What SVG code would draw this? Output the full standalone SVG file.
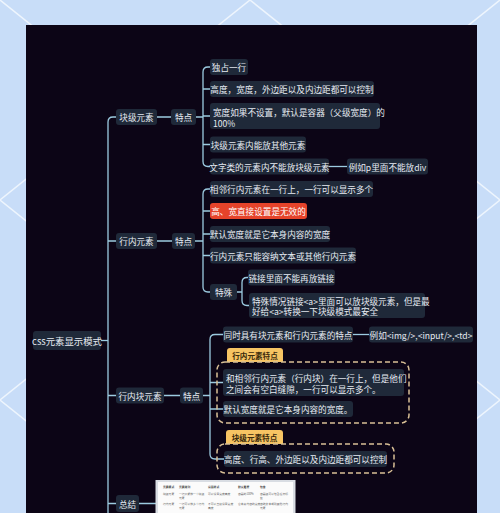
<svg xmlns="http://www.w3.org/2000/svg" width="500" height="513" viewBox="0 0 500 513">
<style>
.bgl{stroke:#eef5fd;stroke-width:1.5;fill:none}
.box{fill:#1f2939}
.t{font-family:"Noto Sans CJK SC","Noto Sans",sans-serif;font-size:8.6px;fill:#e6ebf2;dominant-baseline:central}
.m{text-anchor:middle}
.con{fill:none;stroke:#9ccbe0;stroke-width:1.3}
.dash{fill:none;stroke:#d9c096;stroke-width:1.5;stroke-dasharray:5 3}
.tag{fill:#f7c463}
.tt{font-family:"Noto Sans CJK SC","Noto Sans",sans-serif;font-size:7.6px;font-weight:bold;fill:#3b2a0c;dominant-baseline:central;text-anchor:middle}
.tb{font-family:"Noto Sans CJK SC","Noto Sans",sans-serif;font-size:2.8px;fill:#666}
.tbh{font-family:"Noto Sans CJK SC","Noto Sans",sans-serif;font-size:2.8px;fill:#333;font-weight:bold}
</style>
<rect x="0" y="0" width="500" height="513" fill="#c8ddf8"/>
<g id="background-pattern">
<line class="bgl" x1="0" y1="-400" x2="500" y2="0"/>
<line class="bgl" x1="0" y1="-200" x2="500" y2="200"/>
<line class="bgl" x1="0" y1="0" x2="500" y2="400"/>
<line class="bgl" x1="0" y1="200" x2="500" y2="600"/>
<line class="bgl" x1="0" y1="400" x2="500" y2="800"/>
<line class="bgl" x1="0" y1="200" x2="500" y2="-200"/>
<line class="bgl" x1="0" y1="400" x2="500" y2="0"/>
<line class="bgl" x1="0" y1="600" x2="500" y2="200"/>
<line class="bgl" x1="0" y1="800" x2="500" y2="400"/>
<line class="bgl" x1="0" y1="1000" x2="500" y2="600"/>
</g>
<rect x="26" y="25" width="451" height="488" fill="#0c0516"/>

<g id="connectors">
<path class="con" d="M101 340.5 H108"/>
<path class="con" d="M116 117 H113 Q108 117 108 122 V513"/>
<path class="con" d="M108 241 H116 M108 395.5 H116 M108 503.5 H116"/>
<path class="con" d="M157 117 H171 M157 241 H172 M164 395.5 H180 M139 503.5 H157"/>
<path class="con" d="M196 117 H203 M210 67 H208 Q203 67 203 72 V161.5 Q203 166.5 208 166.5 H210 M203 89 H210 M203 116 H210 M203 144.5 H210"/>
<path class="con" d="M329 166.5 H347"/>
<path class="con" d="M195 241 H203 M210 189 H208 Q203 189 203 194 V287 Q203 292 208 292 H210 M203 211 H210 M203 234 H210 M203 255.5 H210"/>
<path class="con" d="M237 292 H242 M248 277.5 H247 Q242 277.5 242 282.5 V300.5 Q242 305.5 247 305.5 H249"/>
<path class="con" d="M203 395.5 H210 M223 334.5 H215 Q210 334.5 210 339.5 V454 Q210 459 215 459 H224 M210 382.5 H223 M210 409 H223"/>
<path class="con" d="M353 334.5 H369"/>
</g>

<g id="root"><rect class="box" x="33" y="331" width="68" height="19" rx="3"/><text class="t m" x="67" y="340.5" style="font-size:9.4px">css元素显示模式</text></g>

<g id="block"><rect class="box" x="116" y="109" width="41" height="16" rx="3"/><text class="t m" x="136.5" y="117">块级元素</text></g>
<g id="block-feat"><rect class="box" x="171" y="109" width="25" height="16" rx="3"/><text class="t m" x="183.5" y="117">特点</text></g>
<g id="b1"><rect class="box" x="210" y="59" width="38" height="16" rx="3"/><text class="t m" x="229" y="67">独占一行</text></g>
<g id="b2"><rect class="box" x="210" y="81" width="164" height="16" rx="3"/><text class="t m" x="292" y="89">高度，宽度，外边距以及内边距都可以控制</text></g>
<g id="b3"><rect class="box" x="210" y="103" width="170" height="26" rx="3"/><text class="t" x="213" y="111.5">宽度如果不设置，默认是容器（父级宽度）的<tspan x="213" dy="11">100%</tspan></text></g>
<g id="b4"><rect class="box" x="210" y="136.5" width="96" height="16" rx="3"/><text class="t m" x="258" y="144.5">块级元素内能放其他元素</text></g>
<g id="b5"><rect class="box" x="210" y="158.5" width="119" height="16" rx="3"/><text class="t m" x="269.5" y="166.5">文字类的元素内不能放块级元素</text></g>
<g id="b5a"><rect class="box" x="347" y="158.5" width="81" height="16" rx="3"/><text class="t m" x="387.5" y="166.5">例如p里面不能放div</text></g>

<g id="inline"><rect class="box" x="116" y="233" width="41" height="16" rx="3"/><text class="t m" x="136.5" y="241">行内元素</text></g>
<g id="inline-feat"><rect class="box" x="172" y="233" width="23" height="16" rx="3"/><text class="t m" x="183.5" y="241">特点</text></g>
<g id="i1"><rect class="box" x="210" y="181" width="163" height="16" rx="3"/><text class="t m" x="291.5" y="189">相邻行内元素在一行上，一行可以显示多个</text></g>
<g id="i2"><rect x="210" y="203" width="97" height="16" rx="3" fill="#e5432a"/><text class="t m" x="258.5" y="211" style="fill:#fff">高、宽直接设置是无效的</text></g>
<g id="i3"><rect class="box" x="210" y="226" width="120" height="16" rx="3"/><text class="t m" x="270" y="234">默认宽度就是它本身内容的宽度</text></g>
<g id="i4"><rect class="box" x="210" y="247.5" width="146" height="16" rx="3"/><text class="t m" x="283" y="255.5">行内元素只能容纳文本或其他行内元素</text></g>
<g id="i5"><rect class="box" x="210" y="284" width="27" height="16" rx="3"/><text class="t m" x="223.5" y="292">特殊</text></g>
<g id="i5a"><rect class="box" x="248" y="269.5" width="87" height="16" rx="3"/><text class="t m" x="291.5" y="277.5">链接里面不能再放链接</text></g>
<g id="i5b"><rect class="box" x="249" y="293" width="176" height="25" rx="3"/><text class="t" x="252" y="300.5">特殊情况链接&lt;a&gt;里面可以放块级元素，但是最<tspan x="252" dy="10.5">好给&lt;a&gt;转换一下块级模式最安全</tspan></text></g>

<g id="inline-block"><rect class="box" x="116" y="387.5" width="48" height="16" rx="3"/><text class="t m" x="140" y="395.5">行内块元素</text></g>
<g id="ib-feat"><rect class="box" x="180" y="387.5" width="23" height="16" rx="3"/><text class="t m" x="191.5" y="395.5">特点</text></g>
<g id="ib1"><rect class="box" x="223" y="326.5" width="130" height="16" rx="3"/><text class="t m" x="288" y="334.5">同时具有块元素和行内元素的特点</text></g>
<g id="ib1a"><rect class="box" x="369" y="326.5" width="104" height="16" rx="3"/><text class="t m" x="421" y="334.5">例如&lt;img/&gt;,&lt;input/&gt;,&lt;td&gt;</text></g>
<g id="boundary-inline">
<path class="tag" d="M227 362 V351 Q227 348 230 348 H280 Q283 348 283 351 V362 Z"/><text class="tt" x="255" y="355.5">行内元素特点</text>
<rect class="dash" x="217" y="362" width="192" height="61" rx="8"/>
</g>
<g id="ib2"><rect class="box" x="223" y="369" width="181" height="27" rx="3"/><text class="t" x="226" y="377.5">和相邻行内元素（行内块）在一行上，但是他们<tspan x="226" dy="11">之间会有空白缝隙，一行可以显示多个。</tspan></text></g>
<g id="ib3"><rect class="box" x="223" y="401" width="130" height="16" rx="3"/><text class="t m" x="288" y="409">默认宽度就是它本身内容的宽度。</text></g>
<g id="boundary-block">
<path class="tag" d="M226 444 V433 Q226 430 229 430 H280 Q283 430 283 433 V444 Z"/><text class="tt" x="254.5" y="437.5">块级元素特点</text>
<rect class="dash" x="217" y="444" width="177" height="29" rx="8"/>
</g>
<g id="ib4"><rect class="box" x="224" y="451" width="163" height="16" rx="3"/><text class="t m" x="305.5" y="459">高度、行高、外边距以及内边距都可以控制</text></g>

<g id="summary"><rect class="box" x="116" y="495" width="23" height="17" rx="3"/><text class="t m" x="127.5" y="503.5">总结</text></g>
<g id="summary-table">
<rect x="155.5" y="480" width="140" height="40" fill="#d9dde3"/>
<rect x="158" y="482" width="135" height="40" fill="#fbfbfb"/>
<text class="tbh" x="163" y="488">元素模式</text><text class="tbh" x="179" y="488">元素排列</text><text class="tbh" x="208" y="488">设置样式</text><text class="tbh" x="238" y="488">默认宽度</text><text class="tbh" x="260" y="488">包含</text>
<text class="tb" x="163" y="495">块级元素</text><text class="tb" x="179" y="495">一行只能放一个块级<tspan x="179" dy="4">元素</tspan></text><text class="tb" x="208" y="495">可以设置宽度高度</text><text class="tb" x="238" y="495">容器的100%</text><text class="tb" x="260" y="495">容器级可以包含任何标<tspan x="260" dy="4">签</tspan></text>
<text class="tb" x="163" y="505">行内元素</text><text class="tb" x="179" y="505">一行可以放多个行内<tspan x="179" dy="4">元素</tspan></text><text class="tb" x="208" y="505">不可以直接设置宽度<tspan x="208" dy="4">高度</tspan></text><text class="tb" x="238" y="505">它本身内容的宽度</text><text class="tb" x="260" y="505">容纳文本或则其他行内<tspan x="260" dy="4">元素</tspan></text>
</g>
</svg>
